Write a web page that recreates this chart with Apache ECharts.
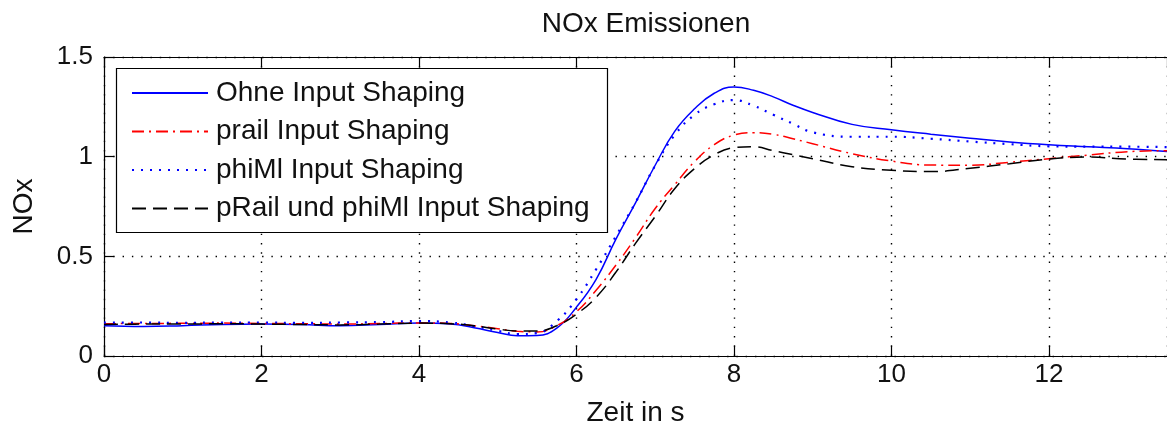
<!DOCTYPE html>
<html>
<head>
<meta charset="utf-8">
<title>NOx Emissionen</title>
<script src="https://cdn.jsdelivr.net/npm/echarts@6/dist/echarts.min.js"></script>
<style>
  html, body { margin: 0; padding: 0; background: #ffffff; }
  #chart { width: 1167px; height: 432px; }
</style>
</head>
<body>
<div id="chart"></div>
<script>
// Zeitachse in s
const zeit = [0, 0.5, 1, 1.5, 2, 2.5, 3, 3.5, 4, 4.4, 4.7, 5, 5.25, 5.5, 5.75,
  6, 6.25, 6.5, 6.75, 7, 7.25, 7.5, 7.75, 8, 8.25, 8.5, 8.75, 9, 9.5, 10,
  10.5, 11, 11.5, 12, 12.5, 13, 13.5];

// NOx-Verläufe der vier Varianten
const ohne = [0.152, 0.148, 0.152, 0.158, 0.16, 0.158, 0.152, 0.158, 0.165, 0.16,
  0.142, 0.118, 0.102, 0.103, 0.14, 0.245, 0.385, 0.585, 0.768, 0.957, 1.128,
  1.24, 1.318, 1.35, 1.333, 1.3, 1.258, 1.222, 1.162, 1.135, 1.113, 1.093,
  1.074, 1.06, 1.05, 1.04, 1.026];
const prail = [0.162, 0.163, 0.164, 0.165, 0.163, 0.162, 0.16, 0.163, 0.166, 0.163,
  0.152, 0.137, 0.124, 0.121, 0.152, 0.222, 0.33, 0.455, 0.593, 0.74, 0.86,
  0.975, 1.06, 1.108, 1.12, 1.112, 1.09, 1.065, 1.015, 0.978, 0.958, 0.957,
  0.972, 0.99, 1.008, 1.025, 1.03];
const phiml = [0.167, 0.168, 0.166, 0.168, 0.168, 0.166, 0.168, 0.17, 0.175, 0.168,
  0.15, 0.126, 0.11, 0.115, 0.175, 0.285, 0.435, 0.6, 0.77, 0.955, 1.11,
  1.21, 1.263, 1.284, 1.255, 1.21, 1.165, 1.122, 1.1, 1.1, 1.09, 1.076,
  1.063, 1.052, 1.05, 1.05, 1.048];
const beide = [0.158, 0.16, 0.16, 0.162, 0.16, 0.158, 0.156, 0.16, 0.165, 0.162,
  0.152, 0.135, 0.126, 0.126, 0.152, 0.21, 0.295, 0.42, 0.565, 0.7, 0.84,
  0.94, 1.01, 1.045, 1.05, 1.03, 1.01, 0.99, 0.95, 0.932, 0.925, 0.942,
  0.965, 0.988, 0.998, 0.988, 0.985];

const namen = [
  'Ohne Input Shaping',
  'prail Input Shaping',
  'phiMl Input Shaping',
  'pRail und phiMl Input Shaping'
];

const FONT = '"Liberation Sans", Arial, Helvetica, sans-serif';
const TXT = '#111111';

function paare(werte) {
  return zeit.map((t, i) => [t, werte[i]]);
}

const dotted = { color: '#000000', width: 1.4, type: [1.4, 7.9] };

function linie(name, werte, farbe, breite, muster) {
  return {
    name: name,
    type: 'line',
    data: paare(werte),
    showSymbol: false,
    symbol: 'none',
    smooth: 0.45,
    lineStyle: { color: farbe, width: breite, type: muster },
    itemStyle: { color: farbe }
  };
}

const chart = echarts.init(document.getElementById('chart'), null, { renderer: 'canvas' });

chart.setOption({
  animation: false,
  backgroundColor: '#ffffff',
  title: {
    text: 'NOx Emissionen',
    left: 641,
    textAlign: 'center',
    top: 5,
    textStyle: { fontFamily: FONT, fontSize: 28, fontWeight: 'normal', color: TXT }
  },
  grid: { left: 104, top: 57, width: 1075, height: 301, containLabel: false },
  xAxis: [
    {
      type: 'value',
      min: 0, max: 13.5, interval: 2,
      name: 'Zeit in s',
      nameLocation: 'middle',
      nameGap: 43,
      nameTextStyle: { fontFamily: FONT, fontSize: 28, color: TXT },
      axisLine: { show: true, lineStyle: { color: '#000', width: 1.2 } },
      axisTick: { show: true, inside: true, length: 10, lineStyle: { color: '#000', width: 1.2 } },
      axisLabel: { margin: 6, fontFamily: FONT, fontSize: 26, color: TXT, showMaxLabel: false },
      splitLine: { show: true, lineStyle: dotted }
    },
    {
      type: 'value',
      position: 'top',
      min: 0, max: 13.5, interval: 2,
      axisLine: { show: true, onZero: false, lineStyle: { color: '#000', width: 1.2 } },
      axisTick: { show: true, inside: true, length: 10, lineStyle: { color: '#000', width: 1.2 } },
      axisLabel: { show: false },
      splitLine: { show: false }
    }
  ],
  yAxis: {
    type: 'value',
    min: 0, max: 1.5, interval: 0.5,
    name: 'NOx',
    nameLocation: 'middle',
    nameGap: 66,
    nameTextStyle: { fontFamily: FONT, fontSize: 28, color: TXT },
    axisLine: { show: true, lineStyle: { color: '#000', width: 1.2 } },
    axisTick: { show: true, inside: true, length: 10, lineStyle: { color: '#000', width: 1.2 } },
    axisLabel: { margin: 11, fontFamily: FONT, fontSize: 26, color: TXT },
    splitLine: { show: true, lineStyle: dotted }
  },
  graphic: [
    {
      type: 'rect',
      z: 3,
      shape: { x: 116.5, y: 68.5, width: 491, height: 164 },
      style: { fill: '#ffffff', stroke: '#000000', lineWidth: 1.2 }
    }
  ],
  legend: {
    orient: 'vertical',
    left: 131,
    top: 78,
    padding: 0,
    itemGap: 8.5,
    itemWidth: 76,
    itemHeight: 14,
    z: 10,
    data: namen,
    itemStyle: { opacity: 0 },
    textStyle: { fontFamily: FONT, fontSize: 28, color: TXT, lineHeight: 30, padding: [0, 0, 0, 3] }
  },
  series: [
    linie(namen[0], ohne, '#0000ff', 1.5, 'solid'),
    linie(namen[1], prail, '#ff0000', 1.5, [12, 5, 2, 5]),
    linie(namen[2], phiml, '#0000ff', 2.2, [2, 7]),
    linie(namen[3], beide, '#000000', 1.5, [14, 7])
  ]
});
</script>
</body>
</html>
